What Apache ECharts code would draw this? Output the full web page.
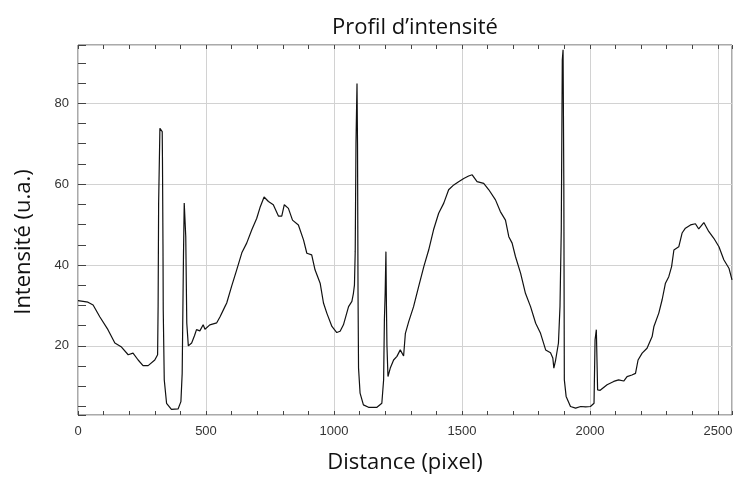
<!DOCTYPE html>
<html>
<head>
<meta charset="utf-8">
<script src="https://cdn.jsdelivr.net/npm/echarts@6/dist/echarts.min.js"></script>
<style>
html,body{margin:0;padding:0;background:#fff;}
#chart{width:737px;height:477px;}
</style>
</head>
<body>
<div id="chart"></div>
<script>
const distance = [0,20,39,59,85,117,144,170,196,215,235,254,274,300,311,313,315,320,326,329,330,332,333,337,346,365,391,402,407,412,415,418,420,421,425,431,444,455,463,476,489,496,515,522,542,555,574,581,600,620,640,659,679,698,711,727,744,763,783,796,806,822,838,861,881,894,913,926,946,959,972,992,1011,1024,1037,1057,1070,1076,1080,1083,1086,1090,1092,1094,1096,1102,1115,1135,1168,1187,1194,1197,1200,1203,1205,1207,1211,1220,1233,1246,1259,1272,1279,1292,1311,1331,1351,1370,1389,1409,1429,1448,1468,1487,1507,1526,1540,1559,1585,1605,1631,1650,1670,1683,1696,1709,1729,1748,1768,1788,1807,1827,1846,1855,1859,1866,1877,1883,1888,1892,1895,1898,1900,1907,1924,1944,1964,1983,2002,2016,2020,2025,2028,2030,2040,2047,2067,2093,2112,2132,2145,2164,2178,2188,2204,2223,2243,2250,2269,2282,2295,2308,2319,2328,2347,2360,2373,2393,2412,2425,2445,2464,2484,2504,2523,2543,2555];
const intensity = [31.2,31.0,30.8,30.1,27.2,24.0,20.7,19.7,17.8,18.2,16.5,15.1,15.1,16.5,17.8,30.0,55.3,73.8,74.2,73.0,66.0,45.0,28.9,11.6,5.8,4.3,4.4,6.2,13.2,42.0,55.3,55.5,55.0,47.0,25.6,20.0,20.7,22.5,24.0,23.7,25.2,24.1,25.2,25.4,25.7,27.2,29.7,30.6,34.7,38.8,43.0,45.4,48.7,51.5,54.2,56.8,55.7,54.9,52.1,52.1,54.9,54.0,51.1,49.9,46.2,42.9,42.5,38.8,35.5,30.6,28.1,24.8,23.3,23.6,25.2,29.7,31.0,33.0,35.0,43.3,70.1,84.9,70.0,33.0,14.5,8.3,5.4,4.8,4.8,5.8,11.6,26.4,33.0,43.3,30.0,20.0,12.4,14.5,16.5,17.4,19.0,17.5,23.1,26.0,29.7,34.7,39.6,43.7,48.7,52.8,55.3,58.6,59.8,60.6,61.4,62.0,62.3,60.6,60.2,58.6,56.1,53.2,51.1,47.0,45.4,42.1,38.0,33.0,29.7,25.6,23.1,19.0,18.3,17.0,14.5,16.5,20.7,29.7,48.7,90.7,93.2,60.0,11.6,7.5,5.0,4.6,5.0,4.9,5.0,5.8,21.5,24.0,15.0,9.1,9.0,9.1,10.4,11.2,11.6,11.3,12.4,12.8,13.2,16.5,18.2,19.4,22.3,24.8,28.1,31.4,35.5,37.1,39.6,43.7,44.5,47.9,49.1,49.9,50.2,48.9,50.5,48.3,46.6,44.5,41.3,39.2,36.3];

const xMin = 0, xMax = 2555, yMin = 2.9, yMax = 94.4;
const titleText = "Profil d\u2019intensité";
const xName = "Distance (pixel)";
const yName = "Intensité (u.a.)";

const data = distance.map((d, i) => [d, intensity[i]]);
const tickColor = '#444';
const labelFont = "'Liberation Sans', Arial, sans-serif";
const nameFont = "'Open Sans', 'Noto Sans', sans-serif";

const tickAxis = (extra) => Object.assign({
  type: 'value',
  axisLine: {show: false},
  axisTick: {show: true, inside: false, length: 4, lineStyle: {color: tickColor}},
  axisLabel: {show: false}, splitLine: {show: false}
}, extra);

const chart = echarts.init(document.getElementById('chart'), null, {renderer: 'canvas'});
chart.setOption({
  animation: false,
  backgroundColor: '#fff',
  title: {
    text: titleText,
    left: 410, top: 12, textAlign: 'center',
    textStyle: {fontFamily: nameFont, fontSize: 22, fontWeight: 'normal', color: '#111'}
  },
  grid: {
    left: 78, right: 5, top: 45, bottom: 62,
    show: true, borderColor: '#555', borderWidth: 1, backgroundColor: '#fff',
    containLabel: false, outerBoundsMode: 'none'
  },
  xAxis: [
    {
      type: 'value', min: xMin, max: xMax, interval: 500, position: 'bottom',
      name: xName, nameLocation: 'middle', nameGap: 37,
      nameTextStyle: {fontFamily: nameFont, fontSize: 22, color: '#111'},
      axisLine: {show: false},
      axisTick: {show: false},
      axisLabel: {
        show: true, margin: 10, fontFamily: labelFont, fontSize: 13, color: '#333',
        showMaxLabel: false,
        formatter: v => (v % 500 === 0 ? String(v) : '')
      },
      splitLine: {show: true, lineStyle: {color: '#d2d2d2', width: 1}}
    },
    tickAxis({min: xMin, max: xMax, interval: 100, position: 'bottom', offset: -4}),
    tickAxis({min: xMin, max: xMax, interval: 100, position: 'top', offset: -4})
  ],
  yAxis: [
    {
      type: 'value', min: yMin, max: yMax, splitNumber: 5, position: 'left',
      name: yName, nameLocation: 'middle', nameGap: 43,
      nameTextStyle: {fontFamily: nameFont, fontSize: 22, color: '#111', padding: [0, 24, 0, 0]},
      axisLine: {show: false},
      axisTick: {show: false},
      axisLabel: {
        show: true, margin: 9, fontFamily: labelFont, fontSize: 13, color: '#333',
        showMinLabel: false, showMaxLabel: false,
        formatter: v => (Math.abs(v % 20) < 1e-6 ? String(v) : '')
      },
      splitLine: {show: true, lineStyle: {color: '#d2d2d2', width: 1}}
    },
    tickAxis({min: yMin, max: yMax, splitNumber: 18, position: 'left', offset: -4}),
    tickAxis({min: yMin, max: yMax, splitNumber: 18, position: 'right', offset: -4})
  ],
  series: [{
    type: 'line', xAxisIndex: 0, yAxisIndex: 0, data: data,
    showSymbol: false, symbol: 'none',
    lineStyle: {color: '#111', width: 1.2},
    z: 5
  }]
});
</script>
</body>
</html>
